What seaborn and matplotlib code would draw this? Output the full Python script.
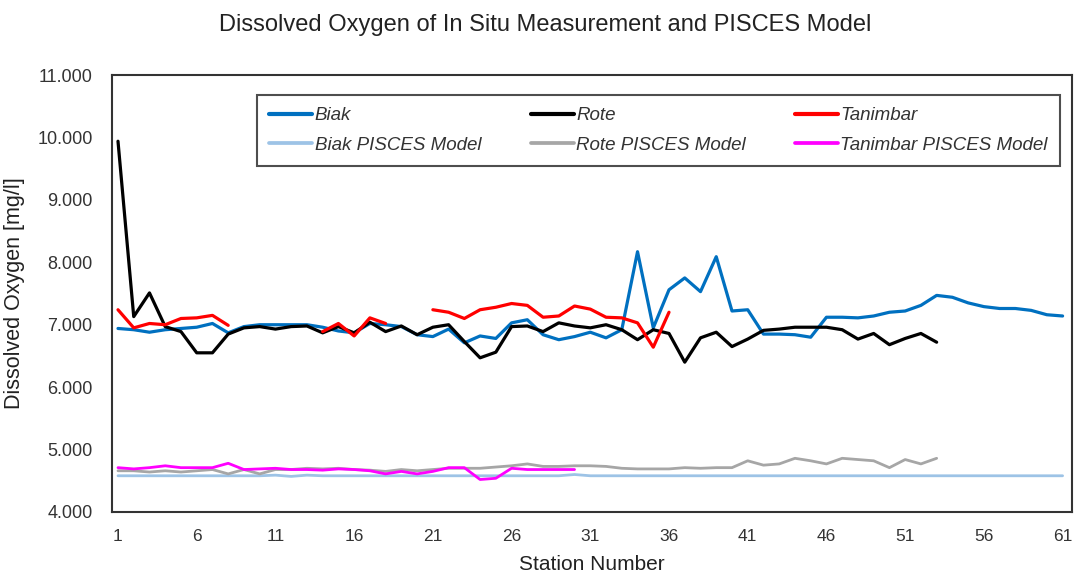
import matplotlib
matplotlib.use("Agg")
import matplotlib.pyplot as plt
from matplotlib.lines import Line2D
import numpy as np
import pandas as pd
import seaborn as sns

nan = np.nan

# In situ measurements (mg/l), station 1..n
biak = [6.94, 6.92, 6.88, 6.92, 6.94, 6.96, 7.02, 6.87, 6.97, 7.00,
        7.00, 7.00, 7.00, 6.96, 6.90, 6.87, 7.02, 7.00, 6.97, 6.84,
        6.81, 6.93, 6.71, 6.82, 6.78, 7.03, 7.08, 6.84, 6.76, 6.81,
        6.88, 6.79, 6.92, 8.17, 6.95, 7.56, 7.75, 7.53, 8.09, 7.22,
        7.24, 6.85, 6.85, 6.84, 6.80, 7.12, 7.12, 7.11, 7.14, 7.20,
        7.22, 7.31, 7.47, 7.44, 7.35, 7.29, 7.26, 7.26, 7.23, 7.16,
        7.14]
rote = [9.94, 7.13, 7.51, 6.97, 6.89, 6.55, 6.55, 6.85, 6.95, 6.97,
        6.93, 6.97, 6.98, 6.87, 6.97, 6.87, 7.04, 6.89, 6.98, 6.84,
        6.96, 7.00, 6.73, 6.47, 6.56, 6.97, 6.98, 6.89, 7.03, 6.98,
        6.95, 7.00, 6.92, 6.76, 6.92, 6.86, 6.40, 6.79, 6.88, 6.65,
        6.77, 6.91, 6.93, 6.96, 6.96, 6.96, 6.92, 6.77, 6.86, 6.68,
        6.78, 6.86, 6.72]
tanimbar = [7.24, 6.95, 7.02, 7.00, 7.10, 7.11, 7.15, 6.99, nan, nan,
            nan, nan, nan, 6.89, 7.02, 6.82, 7.11, 7.02, nan, nan,
            7.24, 7.20, 7.10, 7.24, 7.28, 7.34, 7.31, 7.12, 7.14, 7.30,
            7.25, 7.12, 7.11, 7.03, 6.64, 7.20]

# PISCES model output
biak_model = [4.58, 4.58, 4.58, 4.58, 4.58, 4.58, 4.58, 4.58, 4.58, 4.58,
              4.59, 4.57, 4.59, 4.58, 4.58, 4.58, 4.58, 4.58, 4.58, 4.58,
              4.58, 4.58, 4.58, 4.58, 4.58, 4.58, 4.58, 4.58, 4.58, 4.60,
              4.58, 4.58, 4.58, 4.58, 4.58, 4.58, 4.58, 4.58, 4.58, 4.58,
              4.58, 4.58, 4.58, 4.58, 4.58, 4.58, 4.58, 4.58, 4.58, 4.58,
              4.58, 4.58, 4.58, 4.58, 4.58, 4.58, 4.58, 4.58, 4.58, 4.58,
              4.58]
rote_model = [4.66, 4.66, 4.64, 4.66, 4.64, 4.66, 4.68, 4.61, 4.68, 4.61,
              4.68, 4.68, 4.70, 4.69, 4.70, 4.68, 4.67, 4.65, 4.68, 4.66,
              4.68, 4.70, 4.70, 4.70, 4.72, 4.74, 4.77, 4.73, 4.73, 4.74,
              4.74, 4.73, 4.70, 4.69, 4.69, 4.69, 4.71, 4.70, 4.71, 4.71,
              4.82, 4.75, 4.77, 4.86, 4.82, 4.77, 4.86, 4.84, 4.82, 4.71,
              4.84, 4.77, 4.86]
tanimbar_model = [4.71, 4.69, 4.71, 4.74, 4.71, 4.71, 4.71, 4.78, 4.68, 4.69,
                  4.70, 4.68, 4.68, 4.67, 4.69, 4.68, 4.66, 4.61, 4.65, 4.61,
                  4.65, 4.71, 4.71, 4.52, 4.54, 4.70, 4.68, 4.68, 4.68, 4.68]

series = [
    ("Biak PISCES Model", biak_model, "#9dc3e6", 2.0),
    ("Rote PISCES Model", rote_model, "#a6a6a6", 2.0),
    ("Tanimbar PISCES Model", tanimbar_model, "#ff00ff", 2.0),
    ("Biak", biak, "#0070c0", 2.3),
    ("Rote", rote, "#000000", 2.3),
    ("Tanimbar", tanimbar, "#ff0000", 2.3),
]

sns.set_style("white")
plt.rcParams["font.family"] = ["Liberation Sans", "DejaVu Sans"]

fig = plt.figure(figsize=(10.77, 5.73), dpi=100)
ax = fig.add_axes([0.104, 0.1065, 0.8914, 0.7625])

handles = {}
for name, vals, color, lw in series:
    df = pd.DataFrame({"station": np.arange(1, len(vals) + 1), "value": vals})
    # segment id so gaps (NaN) are not bridged
    df["seg"] = df["value"].isna().cumsum()
    df = df.dropna()
    sns.lineplot(data=df, x="station", y="value", units="seg", estimator=None,
                 color=color, linewidth=lw, ax=ax, legend=False)
    handles[name] = Line2D([], [], color=color, linewidth=lw + 0.7)

ax.set_xlim(0.62, 61.6)
ax.set_ylim(4, 11)
ax.set_xticks(range(1, 62, 5))
ax.set_yticks(range(4, 12))
ax.set_yticklabels([f"{v:.3f}" for v in range(4, 12)])
ax.tick_params(axis="both", length=0, colors="#333333")
ax.tick_params(axis="y", pad=14, labelsize=13)
ax.tick_params(axis="x", pad=12, labelsize=12.5)
for s in ax.spines.values():
    s.set_visible(True)
    s.set_color("#333333")
    s.set_linewidth(1.5)

ax.set_xlabel("Station Number", fontsize=15, color="#222222", labelpad=8)
ax.set_ylabel("Dissolved Oxygen [mg/l]", fontsize=15.5, color="#222222", labelpad=9)
fig.suptitle("Dissolved Oxygen of In Situ Measurement and PISCES Model",
             x=0.506, y=0.975, fontsize=17, color="#222222")

order = ["Biak", "Biak PISCES Model", "Rote", "Rote PISCES Model",
         "Tanimbar", "Tanimbar PISCES Model"]
leg = ax.legend([handles[n] for n in order], order, ncol=3, mode="expand",
                loc="upper left", bbox_to_anchor=(0.151, 0.954, 0.8365, 0.0),
                prop={"style": "italic", "size": 13.5}, handlelength=2.3,
                handletextpad=0.12, frameon=True, fancybox=False,
                borderpad=0.65, labelspacing=0.65, borderaxespad=0)
leg.get_frame().set_edgecolor("#222222")
leg.get_frame().set_linewidth(1.5)
for t in leg.get_texts():
    t.set_color("#333333")

fig.savefig("out.png", dpi=100)
